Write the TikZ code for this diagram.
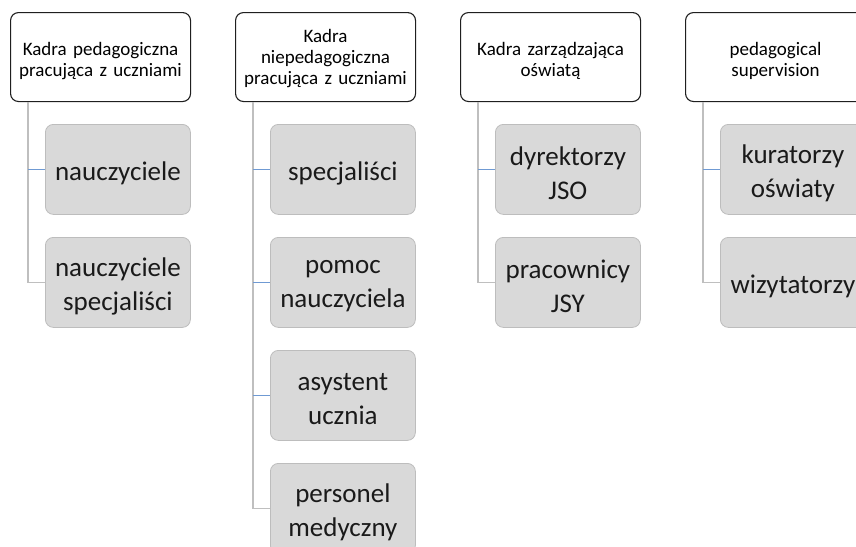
\documentclass[tikz,border=0pt]{standalone}
\usepackage{fontspec}
\setmainfont{Carlito}
\definecolor{childfill}{HTML}{D9D9D9}
\definecolor{childline}{HTML}{BDBDBD}
\definecolor{conngray}{HTML}{BFBFBF}
\definecolor{connblue}{HTML}{6F9AD3}
\definecolor{txt}{HTML}{1A1A1A}
\tikzset{
  hdr/.style={draw=black!88, line width=1.1pt, fill=white, rounded corners=8pt,
    minimum width=180pt, minimum height=89pt, inner sep=2pt, align=center,
    text width=176pt, font=\fontsize{19}{21}\selectfont, text=black, anchor=north west},
  child/.style={draw=childline, line width=0.8pt, fill=childfill, rounded corners=8pt,
    minimum width=145pt, minimum height=90pt, inner sep=2pt, align=center,
    text width=141pt, font=\fontsize{27}{34}\selectfont, text=txt, anchor=north west},
  vline/.style={draw=conngray, line width=1.2pt},
  bluetick/.style={draw=connblue, line width=1.6pt},
}
\newcommand{\lowr}[2]{\raisebox{-#1}[\height][\depth]{\parbox{\linewidth}{\centering #2}}}
\begin{document}
\begin{tikzpicture}[x=1pt,y=-1pt]
\useasboundingbox (0,0) rectangle (856,546);
\clip (0,0) rectangle (856,546);
% column 1
\node[hdr] (h1) at (10,12) {\lowr{4pt}{Kadra pedagogiczna\\pracująca z uczniami}};
\node[child] (c11) at (45,124) {\lowr{4pt}{nauczyciele}};
\node[child] (c12) at (45,237) {\lowr{4pt}{nauczyciele\\specjaliści}};
\coordinate (v1) at (28,0);
% column 2
\node[hdr] (h2) at (235,12) {\lowr{1pt}{Kadra\\niepedagogiczna\\pracująca z uczniami}};
\node[child] (c21) at (270,124) {\lowr{4pt}{specjaliści}};
\node[child] (c22) at (270,237) {\lowr{4pt}{pomoc\\nauczyciela}};
\node[child] (c23) at (270,350) {\lowr{4pt}{asystent\\ucznia}};
\node[child] (c24) at (270,463) {\lowr{4pt}{personel\\medyczny}};
\coordinate (v2) at (253,0);
% column 3
\node[hdr] (h3) at (460,12) {\lowr{4pt}{Kadra zarządzająca\\oświatą}};
\node[child] (c31) at (495,124) {\lowr{4pt}{dyrektorzy\\JSO}};
\node[child] (c32) at (495,237) {\lowr{4pt}{pracownicy\\JSY}};
\coordinate (v3) at (478,0);
% column 4
\node[hdr] (h4) at (685,12) {\lowr{4pt}{pedagogical\\supervision}};
\node[child] (c41) at (720,124) {\lowr{4pt}{kuratorzy\\oświaty}};
\node[child] (c42) at (720,237) {\lowr{4pt}{wizytatorzy}};
\coordinate (v4) at (703,0);
% connectors
\draw[vline] (v1 |- h1.south) |- (c12.west);
\draw[bluetick] (v1 |- c11.west) -- (c11.west);
\draw[vline] (v2 |- h2.south) |- (c24.west);
\draw[bluetick] (v2 |- c21.west) -- (c21.west);
\draw[bluetick] (v2 |- c22.west) -- (c22.west);
\draw[bluetick] (v2 |- c23.west) -- (c23.west);
\draw[vline] (v3 |- h3.south) |- (c32.west);
\draw[bluetick] (v3 |- c31.west) -- (c31.west);
\draw[vline] (v4 |- h4.south) |- (c42.west);
\draw[bluetick] (v4 |- c41.west) -- (c41.west);
\end{tikzpicture}
\end{document}
